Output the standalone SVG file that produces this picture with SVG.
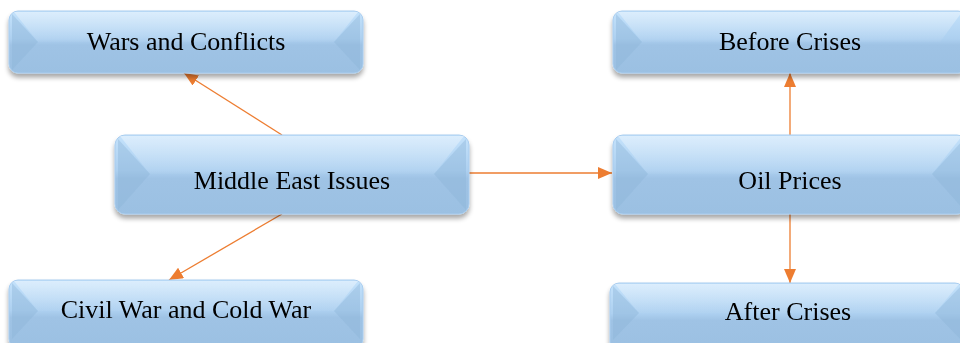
<svg xmlns="http://www.w3.org/2000/svg" width="960" height="343" viewBox="0 0 960 343">
<defs>
<linearGradient id="g" x1="0" y1="0" x2="0" y2="1">
<stop offset="0" stop-color="#c4e2fb"/>
<stop offset="0.45" stop-color="#add0f0"/>
<stop offset="0.55" stop-color="#9fc3e5"/>
<stop offset="1" stop-color="#9bc0e2"/>
</linearGradient>
<linearGradient id="top" x1="0" y1="0" x2="0" y2="1">
<stop offset="0" stop-color="#ffffff" stop-opacity="0.4"/>
<stop offset="1" stop-color="#ffffff" stop-opacity="0.03"/>
</linearGradient>
<filter id="sh" x="-10%" y="-20%" width="120%" height="160%">
<feGaussianBlur in="SourceAlpha" stdDeviation="2.5"/>
<feOffset dx="0" dy="4"/>
<feComponentTransfer><feFuncA type="linear" slope="0.35"/></feComponentTransfer>
<feMerge><feMergeNode/><feMergeNode in="SourceGraphic"/></feMerge>
</filter>
<marker id="ah" viewBox="0 0 14 12" refX="14" refY="6" markerWidth="14" markerHeight="12" markerUnits="userSpaceOnUse" orient="auto">
<path d="M0,0 L14,6 L0,12 z" fill="#ed7d31"/>
</marker>
</defs>
<style>
.box{fill:url(#g);stroke:#a9cdef;stroke-width:1}
.lb{fill:#8db3d8;opacity:0.4}
.tp{fill:url(#top)}
.t{font-family:"Liberation Serif","Times New Roman",serif;font-size:26px;fill:#000;text-anchor:middle}
.c{stroke:#ed7d31;stroke-width:1.3;fill:none;marker-end:url(#ah)}
</style>

<g id="connectors">
<line class="c" x1="282" y1="135" x2="184" y2="73"/>
<line class="c" x1="282" y1="214" x2="169" y2="280"/>
<line class="c" x1="469" y1="173" x2="612" y2="173"/>
<line class="c" x1="790" y1="135" x2="790" y2="73"/>
<line class="c" x1="790" y1="214" x2="790" y2="283"/>
</g>

<g id="wars" filter="url(#sh)">
<rect class="box" x="9" y="11" width="354" height="62" rx="9"/>
<polygon class="lb" points="12,14 38,42 12,70"/>
<polygon class="lb" points="360,14 334,42 360,70"/>
<polygon class="tp" points="14,12 358,12 334,42 38,42"/>
<text class="t" x="186" y="50">Wars and Conflicts</text>
</g>

<g id="middle" filter="url(#sh)">
<rect class="box" x="115" y="135" width="354" height="79" rx="10"/>
<polygon class="lb" points="118,139 150,174 118,210"/>
<polygon class="lb" points="466,139 434,174 466,210"/>
<polygon class="tp" points="120,136 464,136 434,174 150,174"/>
<text class="t" x="292" y="189">Middle East Issues</text>
</g>

<g id="civil" filter="url(#sh)">
<rect class="box" x="9" y="280" width="354" height="68" rx="9"/>
<polygon class="lb" points="12,283 38,311 12,339"/>
<polygon class="lb" points="360,283 334,311 360,339"/>
<polygon class="tp" points="14,281 358,281 334,311 38,311"/>
<text class="t" x="186" y="318">Civil War and Cold War</text>
</g>

<g id="before" filter="url(#sh)">
<rect class="box" x="613" y="11" width="354" height="62" rx="9"/>
<polygon class="lb" points="616,14 642,42 616,70"/>
<polygon class="tp" points="618,12 962,12 940,42 642,42"/>
<text class="t" x="790" y="50">Before Crises</text>
</g>

<g id="oil" filter="url(#sh)">
<rect class="box" x="613" y="135" width="354" height="79" rx="10"/>
<polygon class="lb" points="616,139 648,174 616,210"/>
<polygon class="lb" points="964,139 932,174 964,210"/>
<polygon class="tp" points="618,136 962,136 932,174 648,174"/>
<text class="t" x="790" y="189">Oil Prices</text>
</g>

<g id="after" filter="url(#sh)">
<rect class="box" x="610" y="283" width="354" height="68" rx="9"/>
<polygon class="lb" points="613,286 639,313 613,340"/>
<polygon class="lb" points="961,286 935,313 961,340"/>
<polygon class="tp" points="615,284 959,284 935,313 639,313"/>
<text class="t" x="788" y="320">After Crises</text>
</g>
</svg>
